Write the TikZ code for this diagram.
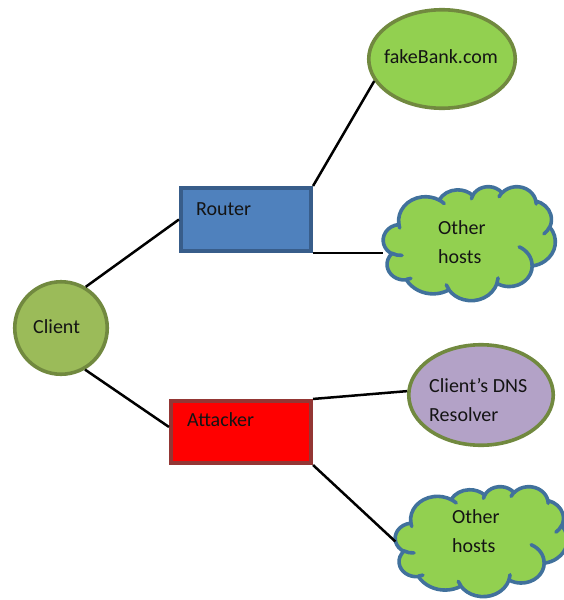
\documentclass[tikz,border=0pt]{standalone}
\usepackage{fontspec}
\setmainfont{Carlito}
\usetikzlibrary{shapes.geometric}
\definecolor{routerfill}{HTML}{4F81BD}
\definecolor{routerline}{HTML}{385D8A}
\definecolor{clientfill}{HTML}{9BBB59}
\definecolor{oliveline}{HTML}{71893F}
\definecolor{lightgreen}{HTML}{92D050}
\definecolor{cloudline}{HTML}{41719C}
\definecolor{dnsfill}{HTML}{B3A2C7}
\definecolor{attackline}{HTML}{943634}
\definecolor{txtcol}{HTML}{141414}
% convert a DrawingML arc (visual angles) to parametric TikZ angles
\newcommand\wcang[5]{%
  \pgfmathsetmacro\wcT{atan2((#2)*sin(#4),(#3)*cos(#4))}%
  \pgfmathsetmacro\wcU{atan2((#2)*sin(#4+#5),(#3)*cos(#4+#5))}%
  \pgfmathsetmacro\wcD{mod(\wcU-\wcT+720,360)}%
  \expandafter\let\csname wc#1s\endcsname\wcT
  \expandafter\let\csname wc#1d\endcsname\wcD}
\tikzset{
  shapebox/.style={draw, line width=3.6pt, inner sep=0pt},
  rectbox/.style={shapebox, rectangle},
  ellbox/.style={shapebox, ellipse, draw=oliveline},
  cloudholder/.style={rectangle, inner sep=0pt},
  cloudedge/.style={draw=cloudline, line width=3.6pt, line join=round},
  lbl/.style={anchor=base west, inner sep=0pt, text=txtcol,
    font=\fontsize{20}{29}\selectfont, align=left},
  conn/.style={draw=black, line width=2.5pt}
}
\newcommand\wordcloud[3]{% node name, width, height
  \begin{scope}[shift={(#1.north west)}, x=#2pt/4320, y=-#3pt/4320]
    \path[cloudedge, fill=lightgreen] (390,1437)
      arc[start angle=\wcoas, delta angle=\wcoad, x radius=675.3, y radius=919.0]
      arc[start angle=\wcobs, delta angle=\wcobd, x radius=533.3, y radius=726.7]
      arc[start angle=\wcocs, delta angle=\wcocd, x radius=436.5, y radius=594.5]
      arc[start angle=\wcods, delta angle=\wcodd, x radius=485.7, y radius=659.5]
      arc[start angle=\wcoes, delta angle=\wcoed, x radius=533.3, y radius=727.3]
      arc[start angle=\wcofs, delta angle=\wcofd, x radius=677.5, y radius=922.0]
      arc[start angle=\wcogs, delta angle=\wcogd, x radius=578.5, y radius=786.7]
      arc[start angle=\wcohs, delta angle=\wcohd, x radius=675.2, y radius=921.5]
      arc[start angle=\wcois, delta angle=\wcoid, x radius=772.0, y radius=1054.3]
      arc[start angle=\wcojs, delta angle=\wcojd, x radius=436.0, y radius=591.8]
      arc[start angle=\wcoks, delta angle=\wcokd, x radius=434.5, y radius=594.5]
      -- cycle;
    \path[cloudedge, line cap=round]
      (469.3,2617.7) arc[start angle=\wcias, delta angle=\wciad, x radius=434.5, y radius=594.5]
      (692.8,3489.9) arc[start angle=\wcibs, delta angle=\wcibd, x radius=436.0, y radius=591.8]
      (1647.8,3909.0) arc[start angle=\wcics, delta angle=\wcicd, x radius=675.2, y radius=921.5]
      (2882.7,3475.1) arc[start angle=\wcids, delta angle=\wcidd, x radius=675.2, y radius=921.5]
      (3412.9,2295.4) arc[start angle=\wcies, delta angle=\wcied, x radius=578.5, y radius=786.7]
      (4179.8,1535.4) arc[start angle=\wcifs, delta angle=\wcifd, x radius=533.3, y radius=727.3]
      (3832.4,542.6) arc[start angle=\wcigs, delta angle=\wcigd, x radius=485.7, y radius=659.5]
      (2907.8,395.2) arc[start angle=\wcihs, delta angle=\wcihd, x radius=485.7, y radius=659.5]
      (2214.1,472.0) arc[start angle=\wciis, delta angle=\wciid, x radius=436.5, y radius=594.5]
      (1400.0,519.2) arc[start angle=\wcijs, delta angle=\wcijd, x radius=675.3, y radius=919.0]
      (412.7,1578.9) arc[start angle=\wciks, delta angle=\wcikd, x radius=675.3, y radius=919.0];
  \end{scope}}
\begin{document}
\wcang{oa}{675.3}{919.0}{-190.4875}{123.7805}%
\wcang{ob}{533.3}{726.7}{-144.1024}{89.9452}%
\wcang{oc}{436.5}{594.5}{-145.8079}{99.7230}%
\wcang{od}{485.7}{659.5}{-130.9861}{117.2417}%
\wcang{oe}{533.3}{727.3}{-78.7089}{109.0269}%
\wcang{of}{677.5}{922.0}{-46.2673}{130.2690}%
\wcang{og}{578.5}{786.7}{0.6250}{114.0333}%
\wcang{oh}{675.2}{921.5}{22.4516}{115.1726}%
\wcang{oi}{772.0}{1054.3}{66.2426}{75.7110}%
\wcang{oj}{436.0}{591.8}{-274.9421}{146.7356}%
\wcang{ok}{434.5}{594.5}{-246.8285}{152.5189}%
\wcang{ia}{434.5}{594.5}{86.7420}{26.4295}%
\wcang{ib}{436.0}{591.8}{73.6105}{11.4475}%
\wcang{ic}{675.2}{921.5}{137.6242}{14.0811}%
\wcang{id}{675.2}{921.5}{6.4533}{15.9984}%
\wcang{ie}{578.5}{786.7}{-70.2924}{70.9174}%
\wcang{if}{533.3}{727.3}{30.3180}{27.7515}%
\wcang{ig}{485.7}{659.5}{-13.7443}{14.8589}%
\wcang{ih}{485.7}{659.5}{-149.1815}{18.1954}%
\wcang{ii}{436.5}{594.5}{-163.4943}{17.6864}%
\wcang{ij}{675.3}{919.0}{-66.7070}{12.3194}%
\wcang{ik}{675.3}{919.0}{157.6544}{11.8582}%
\begin{tikzpicture}[x=1pt,y=-1pt]
\useasboundingbox (0,0) rectangle (563,600);
% shapes
\node[shapebox, circle, draw=oliveline, fill=clientfill, minimum size=92.5pt] (client) at (61,328) {};
\node[rectbox, draw=routerline, fill=routerfill, minimum width=130.5pt, minimum height=63.5pt] (router) at (246,219.5) {};
\node[rectbox, draw=attackline, fill=red, minimum width=140.5pt, minimum height=62.5pt] (attacker) at (241,432) {};
\node[ellbox, fill=lightgreen, minimum width=146.5pt, minimum height=98.5pt] (fakebank) at (442,59) {};
\node[ellbox, fill=dnsfill, minimum width=144.5pt, minimum height=100.5pt] (dns) at (481,395) {};
\node[cloudholder, minimum width=172pt, minimum height=114pt] (cloudA) at (469.5,243.5) {};
\node[cloudholder, minimum width=172pt, minimum height=110pt] (cloudB) at (481.5,541.5) {};
\wordcloud{cloudA}{172}{114}
\wordcloud{cloudB}{172}{110}
% texts
\node[lbl] (tclient) at (33,333) {Client};
\node[lbl] (trouter) at (196,215) {Router};
\node[lbl] (tattacker) at (187,426) {Attacker};
\node[lbl, anchor=base] (tfake) at (441,63) {fakeBank.com};
\node[lbl] (tdns) at (429,421) {Client’s DNS\\Resolver};
\node[lbl] (tcloudA) at (438,263) {Other\\hosts};
\node[lbl] (tcloudB) at (452,552) {Other\\hosts};
% connectors
\draw[conn] (client.59) -- (router.west);
\draw[conn] (client.-60) -- (attacker.176);
\draw[conn] (router.north east) -- (fakebank.198);
\draw[conn] (router.south east) -- (router.south east -| cloudA.west);
\draw[conn] (attacker.north east) -- (dns.177);
\draw[conn] (attacker.south east) -- (cloudB.west);
\end{tikzpicture}
\end{document}
